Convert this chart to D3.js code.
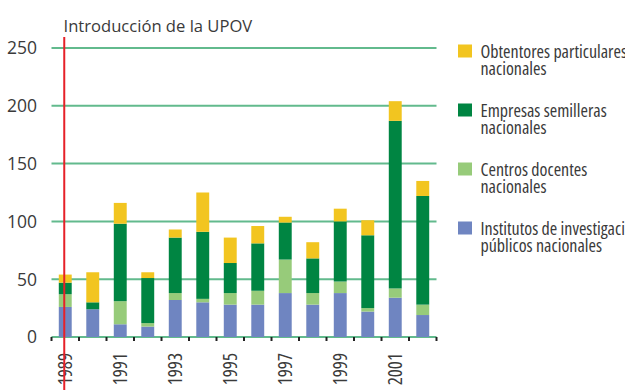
<!DOCTYPE html>
<html>
<head>
<meta charset="utf-8">
<script src="https://cdn.jsdelivr.net/npm/d3@7"></script>
<style>
  html, body { margin: 0; padding: 0; background: #ffffff; }
  svg { display: block; font-family: "Open Sans", sans-serif; font-stretch: 80%; }
  .wide { font-stretch: 89%; }
</style>
</head>
<body>
<svg id="chart" width="625" height="390"></svg>
<script>
// Years on the horizontal axis
const years = ["1989", "1990", "1991", "1992", "1993", "1994", "1995",
               "1996", "1997", "1998", "1999", "2000", "2001", "2002"];

// Stacked series, bottom to top
const institutos = [26, 24, 11, 9, 32, 30, 28, 28, 38, 28, 38, 22, 34, 19];
const centros    = [11, 0, 20, 3, 6, 3, 10, 12, 29, 10, 10, 3, 8, 9];
const empresas   = [10, 6, 67, 39, 48, 58, 26, 41, 32, 30, 52, 63, 145, 94];
const obtentores = [7, 26, 18, 5, 7, 34, 22, 15, 5, 14, 11, 13, 17, 13];

const seriesKeys = ["institutos", "centros", "empresas", "obtentores"];
const seriesColors = ["#6f85c1", "#97cb7a", "#008542", "#f2c520"];

// Legend entries, top to bottom (each a pair of lines)
const legendKeys = ["obtentores", "empresas", "centros", "institutos"];
const legendLines = [
  ["Obtentores particulares", "nacionales"],
  ["Empresas semilleras", "nacionales"],
  ["Centros docentes", "nacionales"],
  ["Institutos de investigación", "públicos nacionales"]
];

const yTicks = [0, 50, 100, 150, 200, 250];
const yearLabels = ["1989", "1991", "1993", "1995", "1997", "1999", "2001"];
const markerYear = "1989";
const markerLabel = "Introducción de la UPOV";

// Table for the stack layout
const rows = years.map((yr, i) => ({
  year: yr,
  institutos: institutos[i],
  centros: centros[i],
  empresas: empresas[i],
  obtentores: obtentores[i]
}));

const svg = d3.select("#chart");
const textColor = "#3a3a3a";
const gridColor = "#62ba8d";

const x = d3.scaleBand()
  .domain(years)
  .range([51.5, 436.5])
  .paddingInner(0.53)
  .paddingOuter(0.265);

const y = d3.scaleLinear()
  .domain([0, 250])
  .range([337, 48]);

const color = d3.scaleOrdinal().domain(seriesKeys).range(seriesColors);

// Horizontal gridlines (the zero line doubles as the baseline)
svg.append("g")
  .selectAll("line")
  .data(yTicks)
  .join("line")
  .attr("x1", 51.5)
  .attr("x2", 436.5)
  .attr("y1", d => y(d))
  .attr("y2", d => y(d))
  .attr("stroke", gridColor)
  .attr("stroke-width", 2);

// Y tick labels
svg.append("g")
  .selectAll("text")
  .data(yTicks)
  .join("text")
  .attr("class", "wide")
  .attr("x", 37)
  .attr("y", d => y(d))
  .attr("dy", "0.36em")
  .attr("text-anchor", "end")
  .attr("font-size", 17.5)
  .attr("fill", textColor)
  .text(d => d);

// Stacked bars
const stacked = d3.stack().keys(seriesKeys)(rows);
svg.append("g")
  .selectAll("g")
  .data(stacked)
  .join("g")
  .attr("fill", d => color(d.key))
  .selectAll("rect")
  .data(d => d)
  .join("rect")
  .attr("x", d => x(d.data.year))
  .attr("width", x.bandwidth())
  .attr("y", d => y(d[1]))
  .attr("height", d => y(d[0]) - y(d[1]));

// Tick marks between years
const step = x.step();
const gap = (step - x.bandwidth()) / 2;
const tickXs = years.map(yr => x(yr) - gap)
  .concat([x(years[years.length - 1]) + x.bandwidth() + gap]);
svg.append("g")
  .selectAll("line")
  .data(tickXs)
  .join("line")
  .attr("x1", d => d)
  .attr("x2", d => d)
  .attr("y1", 337)
  .attr("y2", 341)
  .attr("stroke", "#222")
  .attr("stroke-width", 2);

// Rotated year labels
svg.append("g")
  .selectAll("text")
  .data(yearLabels)
  .join("text")
  .attr("transform", d => `translate(${x(d) + x.bandwidth() / 2},353) rotate(-90)`)
  .attr("dy", "0.36em")
  .attr("text-anchor", "end")
  .attr("font-size", 19)
  .attr("fill", textColor)
  .text(d => d);

// Marker line for the introduction of UPOV
const mx = x(markerYear) + x.bandwidth() / 2 - 1;
svg.append("line")
  .attr("x1", mx)
  .attr("x2", mx)
  .attr("y1", 37)
  .attr("y2", 390)
  .attr("stroke", "#e62129")
  .attr("stroke-width", 2);

svg.append("text")
  .attr("class", "wide")
  .attr("x", 63.5)
  .attr("y", 32)
  .attr("font-size", 16.6)
  .attr("fill", textColor)
  .text(markerLabel);

// Legend
const legend = svg.append("g");
const entry = legend.selectAll("g")
  .data(legendKeys)
  .join("g")
  .attr("transform", (d, i) => `translate(458,${44.5 + i * 59})`);

entry.append("rect")
  .attr("width", 14)
  .attr("height", 13)
  .attr("fill", d => color(d));

entry.append("text")
  .attr("y", 13.5)
  .attr("font-size", 18)
  .attr("fill", textColor)
  .selectAll("tspan")
  .data((d, i) => legendLines[i])
  .join("tspan")
  .attr("x", 22.5)
  .attr("dy", (d, j) => j === 0 ? 0 : 17.3)
  .text(d => d);
</script>
</body>
</html>
